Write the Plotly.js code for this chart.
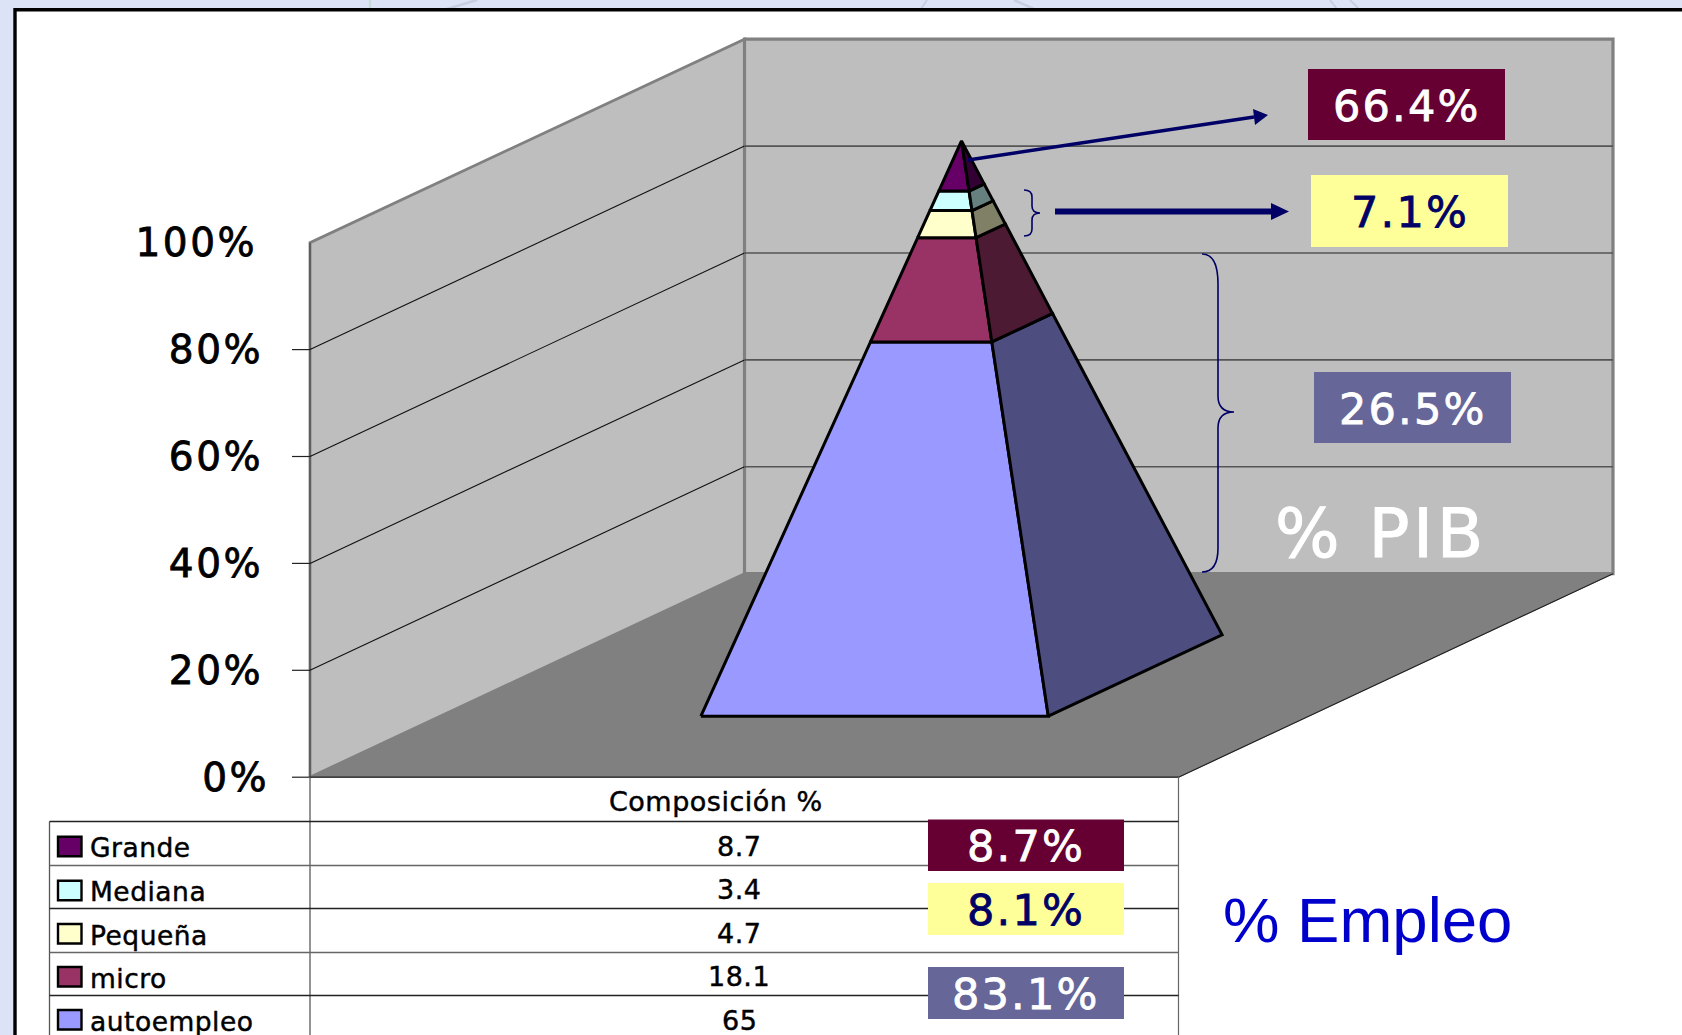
<!DOCTYPE html>
<html><head><meta charset="utf-8">
<script src="https://cdn.plot.ly/plotly-3.0.1.min.js"></script>
<style>html,body{margin:0;padding:0;overflow:hidden;background:#DDE3F6}#c{width:1682px;height:1035px}
text[style*="font-size: 39px"]{letter-spacing:2.5px}
text[style*="font-size: 43px"]{letter-spacing:2.2px}
text[style*="font-size: 68px"]{letter-spacing:3.6px}
text[style*="font-size: 27px"],text[style*="font-size: 26.5px"]{letter-spacing:.5px}
</style>
</head><body><div id="c"></div>
<script>
// ---- data ----
const categories = ['Grande','Mediana','Pequeña','micro','autoempleo'];
const composicion = [8.7,3.4,4.7,18.1,65];
const frontColors = ['#660066','#CCFFFF','#FFFFCC','#993366','#9999FF'];
const sideColors  = ['#330033','#668080','#808066','#4D1A33','#4D4D80'];
const yTicks = [0,20,40,60,80,100];
const yTickText = ['0%','20%','40%','60%','80%','100%'];
const pibLabels = ['66.4%','7.1%','26.5%'];
const empleoLabels = ['8.7%','8.1%','83.1%'];

// ---- geometry of the 3-D box, in page pixels ----
const W=1682,H=1035, X0=310, Y0=777.2, WID=868.5, DX=434.5, DY=203.5, HT=534.5;
const k=HT/100;                       // px per percent
const py=p=>(Y0-p)/k;                 // page y -> axis value
const proj=(u,v,t)=>[X0+WID*u+DX*v, 100*t+(DY/k)*v];
function poly(pts,fill,lineColor,lw){
  return {x:[...pts.map(p=>p[0]),pts[0][0]],y:[...pts.map(p=>p[1]),pts[0][1]],mode:'lines',fill:'toself',
    fillcolor:fill,line:{color:lineColor,width:lw},hoverinfo:'skip',showlegend:false,type:'scatter'};
}
function seg(a,b,color,lw){
  return {x:[a[0],b[0]],y:[a[1],b[1]],mode:'lines',line:{color:color,width:lw},hoverinfo:'skip',showlegend:false,type:'scatter'};
}
const traces=[];
// walls and floor
traces.push(poly([proj(0,0,0),proj(0,0,1),proj(0,1,1),proj(0,1,0)],'#BEBEBE','#808080',2.8));
traces.push(poly([proj(0,1,0),proj(0,1,1),proj(1,1,1),proj(1,1,0)],'#BEBEBE','#808080',3.2));
traces.push(poly([proj(0,0,0),proj(1,0,0),proj(1,1,0),proj(0,1,0)],'#808080','#808080',1));
traces.push(seg(proj(0,0,0),proj(0,0,1),'#555555',1.5));
traces.push(seg(proj(0,0,0),proj(1,0,0),'#222222',1.3));
traces.push(seg(proj(1,0,0),proj(1,1,0),'#222222',1.2));
// gridlines and tick stubs
yTicks.forEach(v=>{
  const t=v/100;
  if(v>0&&v<100){
    traces.push(seg(proj(0,0,t),proj(0,1,t),'#111111',1.1));
    traces.push(seg(proj(0,1,t),proj(1,1,t),'#555555',1.6));
  }
  if(v<100) traces.push(seg([X0-18,v],[X0,v],'#222222',1.2));
});
// pyramid, stacked from the base up
const total=composicion.reduce((a,b)=>a+b,0);
let cum=0;
for(let i=categories.length-1;i>=0;i--){
  const t0=cum/total; cum+=composicion[i]; const t1=cum/total;
  const s0=0.2*(1-t0), s1=0.2*(1-t1);
  traces.push(poly([proj(.5-s0,.5-s0,t0),proj(.5+s0,.5-s0,t0),proj(.5+s1,.5-s1,t1),proj(.5-s1,.5-s1,t1)],frontColors[i],'#000000',3));
  traces.push(poly([proj(.5+s0,.5-s0,t0),proj(.5+s0,.5+s0,t0),proj(.5+s1,.5+s1,t1),proj(.5+s1,.5-s1,t1)],sideColors[i],'#000000',3));
}
// data table
const rowY=[821.5,865.5,908.5,952.5,995.5];
const hline=(x0,x1,p,c)=>seg([x0,py(p)],[x1,py(p)],c,1.3);
traces.push(seg([X0,py(Y0)],[X0,py(1040)],'#666666',1.4));
traces.push(seg([X0+WID,py(Y0)],[X0+WID,py(1040)],'#666666',1.2));
traces.push(seg([49.5,py(821.5)],[49.5,py(1040)],'#555555',1.3));
rowY.forEach((p,i)=>traces.push(hline(49.5,X0+WID,p,i%2?'#666666':'#222222')));

// ---- overlays ----
const shapes=[];
const rect=(x0,y0,x1,y1,fill,line,lw,layer)=>({type:'rect',xref:'x',yref:'y',x0,x1,y0:py(y0),y1:py(y1),fillcolor:fill,
  line:{color:line||fill,width:lw||0},layer:layer||'above'});
const path=(pts,color,lw,fill,layer)=>({type:'path',xref:'x',yref:'y',layer:layer||'above',line:{color,width:lw},fillcolor:fill||'rgba(0,0,0,0)',
  path:pts.map(s=>typeof s==='string'?s:s[0]+','+py(s[1])).join(' ')});
// faint background motif showing above the frame
shapes.push(path(['M',[370,0],'L',[370,9]],'#C6DCD4',2.5,null,'below'));
shapes.push(path(['M',[477,0],'L',[447,9]],'#C8CEE0',2.5,null,'below'));
shapes.push(path(['M',[927,0],'L',[921,9]],'#C8CEE0',2,null,'below'));
shapes.push(path(['M',[1014,0],'L',[1034,9]],'#C8CEE0',2.5,null,'below'));
shapes.push(path(['M',[1330,0],'L',[1337,9]],'#C8CEE0',2,null,'below'));
shapes.push(path(['M',[1350,0],'L',[1359,9]],'#C8CEE0',2,null,'below'));
shapes.push(rect(15,9.7,1720,1100,'#FFFFFF','#000000',3.4,'below'));
// legend keys
const keyY=[836.7,880.7,924,967,1010];
categories.forEach((c,i)=>shapes.push(rect(58,keyY[i],81.5,keyY[i]+19.5,frontColors[i],'#000000',2.4)));
// value boxes
const pibBoxes=[[1308,69,1505,140,'#660033','#FFFFFF'],[1311,175,1508,247,'#FFFF99','#000066'],[1314,372,1511,443,'#666699','#FFFFFF']];
const empBoxes=[[928,819.5,1124,871,'#660033','#FFFFFF'],[928,883,1124,935,'#FFFF99','#000066'],[928,967,1124,1019,'#666699','#FFFFFF']];
pibBoxes.concat(empBoxes).forEach(b=>shapes.push(rect(b[0],b[1],b[2],b[3],b[4])));
// arrows
const NAVY='#000066';
shapes.push(path(['M',[968,160],'L',[1254,117]],NAVY,3.6));
shapes.push(path(['M',[1268,115],'L',[1253,109],'L',[1255,125],'Z'],NAVY,0,NAVY));
shapes.push(path(['M',[1055,211.5],'L',[1272,211.5]],NAVY,6));
shapes.push(path(['M',[1289,211.5],'L',[1271,203],'L',[1271,220],'Z'],NAVY,0,NAVY));
// braces
shapes.push(path(['M',[1024,190],'Q',[1032,190],[1032,197],'L',[1032,206],'Q',[1032,213],[1040,213],'Q',[1032,213],[1032,220],'L',[1032,229],'Q',[1032,236],[1024,236]],NAVY,1.6));
shapes.push(path(['M',[1202,254],'Q',[1218,254],[1218,284],'L',[1218,396],'Q',[1218,412],[1234,412],'Q',[1218,412],[1218,428],'L',[1218,548],'Q',[1218,572],[1202,572]],NAVY,1.6));

const VF='"DejaVu Sans",Verdana,sans-serif';
const ann=[];
const label=(text,x,p,size,color,anchor,family)=>ann.push({xref:'x',yref:'y',x,y:py(p),text,showarrow:false,xanchor:anchor||'center',yanchor:'middle',
  font:{family:family||VF,size,color},borderpad:0,borderwidth:0});
pibBoxes.forEach((b,i)=>label(pibLabels[i],(b[0]+b[2])/2,(b[1]+b[3])/2+1,43,b[5]));
empBoxes.forEach((b,i)=>label(empleoLabels[i],(b[0]+b[2])/2,(b[1]+b[3])/2+1,43,b[5]));
label('% PIB',1381,533,68,'#FFFFFF');
label('% Empleo',1367,920,63.5,'#0000CC','center','"Liberation Sans",Arial,sans-serif');
label('Composición %',715.5,801,27,'#000000');
const valY=[846,889,933,976,1020];
composicion.forEach((v,i)=>label(String(v),739,valY[i],27,'#000000'));
const nameY=[847,891,935,978,1021];
categories.forEach((c,i)=>label(c,90,nameY[i],26.5,'#000000','left'));

const layout={
  width:W,height:H,margin:{l:0,r:0,t:0,b:0,pad:0},
  paper_bgcolor:'#DDE3F6',plot_bgcolor:'#DDE3F6',showlegend:false,
  xaxis:{range:[0,W],visible:false,fixedrange:true},
  yaxis:{range:[py(H),py(0)],anchor:'free',position:X0/W,side:'left',showgrid:false,zeroline:false,showline:false,
    tickmode:'array',tickvals:yTicks,ticktext:yTickText,ticks:'',ticklabelstandoff:47,
    tickfont:{family:VF,size:39,color:'#000000'},fixedrange:true},
  shapes,annotations:ann
};
Plotly.newPlot('c',traces,layout,{displayModeBar:false,staticPlot:true}).then(gd=>{
  // the reference's type has a heavier weight than the regular face
  gd.querySelectorAll('text').forEach(t=>{
    const fs=parseFloat(t.style.fontSize);
    if(t.style.fontFamily.includes('Liberation')) return;
    t.style.stroke=t.style.fill;
    t.style.strokeWidth=(fs>=60?1:fs>=39?0.8:0.45)+'px';
  });
  const shift={'100%':-6,'0%':6};
  gd.querySelectorAll('.ytick text').forEach(t=>{
    const d=shift[t.textContent]; if(d) t.setAttribute('dx',d);
  });
});
</script></body></html>
